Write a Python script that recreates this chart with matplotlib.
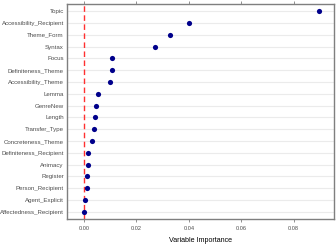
import matplotlib
matplotlib.use("Agg")
import matplotlib.pyplot as plt

variables = ["Topic", "Accessibility_Recipient", "Theme_Form", "Syntax", "Focus",
             "Definiteness_Theme", "Accessibility_Theme", "Lemma", "GenreNew", "Length",
             "Transfer_Type", "Concreteness_Theme", "Definiteness_Recipient", "Animacy",
             "Register", "Person_Recipient", "Agent_Explicit", "Affectedness_Recipient"]
importance = [0.0896, 0.0400, 0.0329, 0.0271, 0.0106, 0.0105, 0.0098, 0.0052, 0.0047,
              0.0042, 0.0039, 0.0031, 0.0016, 0.0014, 0.0011, 0.0010, 0.0004, 0.0000]
xticks = [0.00, 0.02, 0.04, 0.06, 0.08]
xticklabels = ["0.00", "0.02", "0.04", "0.06", "0.08"]
xlabel = "Variable Importance"

plt.rcParams['font.family'] = ['Liberation Sans', 'DejaVu Sans']

fig = plt.figure(figsize=(3.36, 2.46), dpi=100)
ax = fig.add_axes([67/336, 27/246, (334.5-67)/336, (219-4)/246])

n = len(variables)
ypos = list(range(n, 0, -1))
for y in ypos:
    ax.axhline(y, color="#EBEBEB", lw=0.8, zorder=0)
ax.axvline(0, color="#FF3030", lw=1.0, ls=(0, (4, 2.5)), zorder=1)
ax.scatter(importance, ypos, s=14, color="#00008B", zorder=3, linewidths=0)

ax.set_xlim(-0.0065, 0.0956)
ax.set_ylim(0.4, n + 0.6)
ax.set_yticks(ypos)
ax.set_yticklabels(variables, fontsize=4.4, color="#4D4D4D")
ax.set_xticks(xticks)
ax.set_xticklabels(xticklabels, fontsize=4.1, color="#4D4D4D")
ax.tick_params(axis="y", length=0, pad=2.2)
ax.tick_params(axis="x", length=2.2, width=0.6, color="#7F7F7F", pad=3.0, top=True)
ax.set_xlabel(xlabel, fontsize=5.1, color="black", va="center")
ax.xaxis.set_label_coords(0.5, (219 - 240) / 215)
for sp in ax.spines.values():
    sp.set_color("#7F7F7F")
    sp.set_linewidth(1.0)

fig.savefig("out.png", dpi=100)
